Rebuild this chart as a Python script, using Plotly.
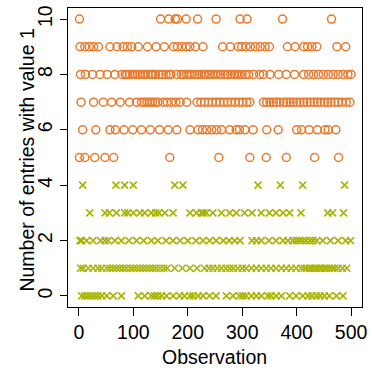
import plotly.graph_objects as go

# Observation indices for each count value
obs_10 = [1, 150, 165, 177, 181, 197, 218, 252, 296, 309, 374, 464]
obs_9 = [2, 11, 19, 27, 36, 57, 70, 81, 89, 97, 109, 126, 142, 157, 174, 181, 189,
         197, 204, 214, 228, 264, 278, 293, 299, 307, 315, 324, 333, 342, 350, 383,
         397, 413, 420, 428, 437, 474, 490]
obs_8 = [3, 12, 25, 39, 52, 66, 79, 85, 88, 93, 99, 103, 108, 112, 118, 122, 127, 133,
         136, 141, 147, 153, 160, 165, 169, 180, 188, 192, 198, 203, 207, 213, 218,
         224, 230, 234, 240, 246, 251, 256, 261, 268, 273, 279, 285, 290, 295, 300,
         306, 312, 321, 332, 339, 351, 367, 381, 396, 413, 422, 431, 440, 449, 458,
         467, 476, 485, 494, 500]
obs_7 = [4, 27, 45, 60, 76, 93, 106, 115, 120, 125, 130, 135, 140, 145, 155, 162,
         170, 178, 186, 198, 217, 224, 231, 238, 245, 252, 259, 266, 273, 280, 287,
         294, 301, 308, 314, 339, 345, 351, 357, 363, 369, 376, 382, 388, 394, 400,
         406, 413, 419, 425, 432, 438, 444, 451, 457, 463, 470, 476, 483, 491, 498]
obs_6 = [7, 31, 57, 67, 83, 99, 115, 131, 148, 164, 180, 204, 219, 227, 235, 244,
         253, 262, 277, 289, 295, 305, 320, 345, 366, 400, 409, 423, 438, 452, 458, 472]
obs_5 = [1, 11, 29, 48, 64, 167, 257, 314, 344, 381, 433, 477]
obs_4 = [7, 68, 84, 100, 176, 191, 329, 370, 411, 488]
obs_3 = [20, 48, 56, 69, 84, 90, 100, 112, 121, 133, 141, 147, 158, 173, 204, 216,
         225, 229, 234, 246, 262, 277, 289, 304, 318, 335, 350, 362, 375, 387, 408,
         457, 466, 486]
obs_2 = [2, 5, 14, 26, 40, 48, 54, 66, 78, 92, 106, 119, 133, 145, 160, 173, 186, 200,
         215, 228, 240, 252, 265, 276, 286, 296, 318, 326, 335, 349, 362, 375, 384,
         393, 399, 405, 411, 417, 424, 430, 437, 448, 462, 476, 490, 499]
obs_1 = [3, 8, 17, 26, 35, 42, 51, 57, 63, 69, 75, 81, 87, 94, 100, 106, 112, 118, 124,
         130, 136, 142, 149, 156, 162, 176, 190, 204, 217, 231, 239, 246, 254, 262,
         270, 277, 284, 292, 300, 307, 317, 326, 335, 344, 353, 362, 372, 381, 390,
         399, 408, 414, 419, 424, 428, 433, 437, 442, 446, 451, 455, 460, 465, 470,
         476, 484, 492]
obs_0 = [5, 11, 17, 23, 29, 35, 42, 51, 63, 78, 109, 121, 133, 139, 145, 152, 161, 173,
         185, 194, 204, 210, 219, 228, 240, 252, 271, 283, 295, 301, 307, 317, 326,
         335, 347, 353, 362, 372, 387, 399, 411, 421, 428, 436, 443, 451, 460, 473, 485]

high_groups = {10: obs_10, 9: obs_9, 8: obs_8, 7: obs_7, 6: obs_6, 5: obs_5}
low_groups = {4: obs_4, 3: obs_3, 2: obs_2, 1: obs_1, 0: obs_0}

x_ticks = [0, 100, 200, 300, 400, 500]
y_ticks = [0, 2, 4, 6, 8, 10]

ORANGE = "#E87A2E"
GREEN = "#A8B400"

hx, hy = [], []
for v, lst in high_groups.items():
    hx += lst
    hy += [v] * len(lst)
lx, ly = [], []
for v, lst in low_groups.items():
    lx += lst
    ly += [v] * len(lst)

fig = go.Figure()
fig.add_trace(go.Scatter(x=hx, y=hy, mode="markers",
                         marker=dict(symbol="circle-open", size=8, color=ORANGE,
                                     line=dict(width=1.5, color=ORANGE))))
fig.add_trace(go.Scatter(x=lx, y=ly, mode="markers",
                         marker=dict(symbol="x-thin-open", size=7, color=GREEN,
                                     line=dict(width=1.6, color=GREEN))))

font = dict(family="Liberation Sans, Arial, sans-serif", size=19.5, color="black")
L, R, T, B = 68, 9, 5, 66
W, H = 372, 373
pw, ph = W - L - R, H - T - B
fig.update_layout(
    width=W, height=H,
    margin=dict(l=L, r=R, t=T, b=B),
    paper_bgcolor="white", plot_bgcolor="white",
    showlegend=False,
    font=font,
    xaxis=dict(range=[-20, 520], tickvals=x_ticks, ticks="outside", ticklen=8,
               tickcolor="black", showline=True, linecolor="black", linewidth=1,
               mirror=True, showgrid=False, zeroline=False, tickfont=font),
    yaxis=dict(range=[-0.4, 10.4], tickvals=y_ticks, ticks="outside", ticklen=7,
               tickcolor="black", showline=True, linecolor="black", linewidth=1,
               mirror=True, showgrid=False, zeroline=False, tickangle=-90,
               tickfont=font),
    annotations=[
        dict(text="Observation", xref="paper", yref="paper",
             x=(215 - L) / pw, y=(H - B - 357) / ph, xanchor="center", yanchor="middle",
             showarrow=False, font=font),
        dict(text="Number of entries with value 1", xref="paper", yref="paper",
             x=(27 - L) / pw, y=(H - B - 159) / ph, xanchor="center", yanchor="middle",
             textangle=-90, showarrow=False, font=font),
    ],
)
fig.write_html("out.html")
